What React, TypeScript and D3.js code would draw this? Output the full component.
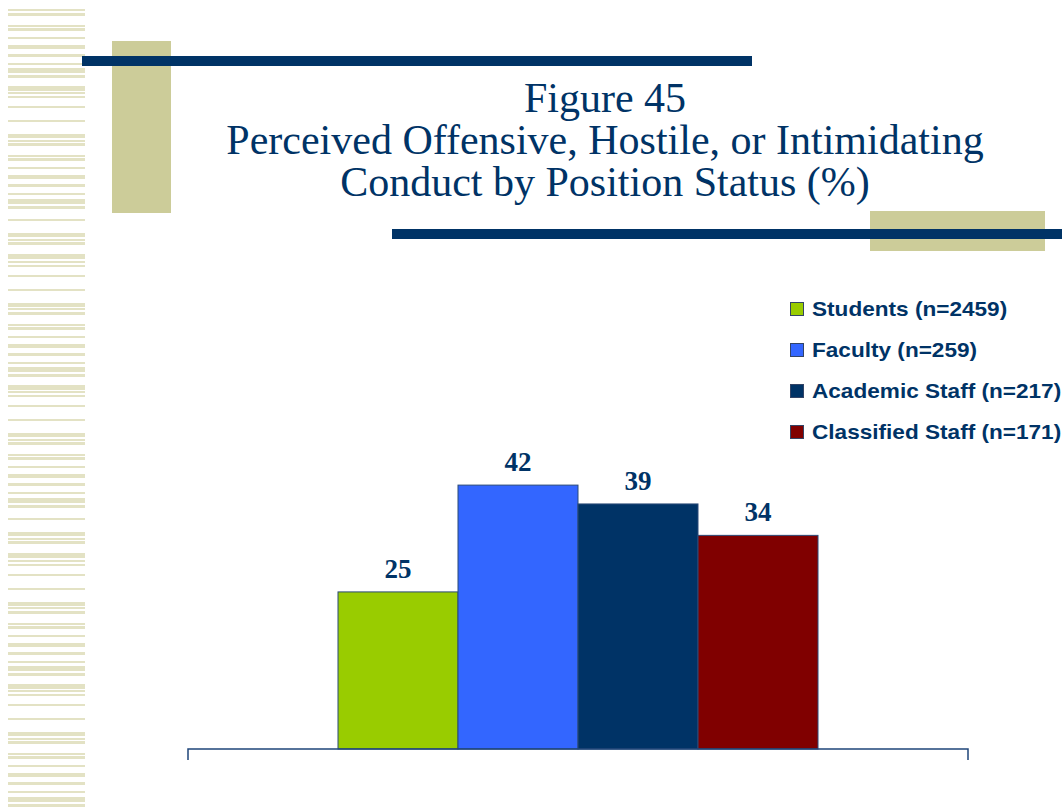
import React from "react";
import * as d3 from "d3";

const categories = ["Position Status"];
const seriesNames = [
  "Students (n=2459)",
  "Faculty (n=259)",
  "Academic Staff (n=217)",
  "Classified Staff (n=171)",
];
const seriesValues = [25, 42, 39, 34];
const seriesColors = ["#99cc00", "#3366ff", "#003366", "#800000"];
const titleLines = [
  "Figure 45",
  "Perceived Offensive, Hostile, or Intimidating",
  "Conduct by Position Status (%)",
];

// decorative stripe pattern (offset, thickness) within one ~300px period
const stripePattern: [number, number][] = [
  [0, 2], [13, 2], [27, 4], [33, 2], [36, 3], [48, 5], [55, 2], [59, 2], [69, 2],
  [83, 2], [97, 4], [102, 2], [106, 3], [118, 2], [121, 3], [130, 2], [138, 4],
  [147, 3], [156, 2], [161, 5], [168, 3], [179, 5], [185, 2], [189, 2], [199, 2],
  [213, 2], [227, 4], [233, 2], [236, 3], [248, 2], [251, 3], [260, 2], [268, 4],
  [277, 3], [286, 2], [292, 5], [299, 3],
];

const W = 1062;
const H = 809;
const NAVY = "#003366";
const KHAKI = "#cccc99";

export default function App() {
  const x0 = d3.scaleBand().domain(categories).range([188, 968]).paddingInner(0).paddingOuter(0.3125);
  const x1 = d3
    .scaleBand()
    .domain(seriesNames)
    .range([0, x0.bandwidth()])
    .padding(0);
  const y = d3.scaleLinear().domain([0, 60]).range([749, 372]);

  const stripes: { y: number; h: number }[] = [];
  [-93, 206, 505].forEach((start) => {
    stripePattern.forEach(([o, t]) => {
      const yy = start + o;
      if (yy + t > 8 && yy < H) stripes.push({ y: Math.max(8, yy), h: t + Math.min(0, yy - 8) });
    });
  });

  const cat = categories[0];
  const gx = x0(cat) as number;

  return (
    <svg width={W} height={H} style={{ position: "absolute", left: 0, top: 0, background: "#fff" }}>
      {/* left stripes */}
      {stripes.map((s, i) => (
        <rect key={i} x={8} y={s.y} width={77} height={s.h} fill="#e3e2c4" />
      ))}
      {/* header decorations */}
      <rect x={112} y={41} width={59} height={172} fill={KHAKI} />
      <rect x={82} y={56} width={670} height={10} fill={NAVY} />
      <rect x={870} y={211} width={175} height={40} fill={KHAKI} />
      <rect x={392} y={229} width={670} height={10} fill={NAVY} />

      {/* title */}
      {titleLines.map((t, i) => (
        <text
          key={i}
          x={605}
          y={112 + i * 42}
          textAnchor="middle"
          fontFamily="'Liberation Serif', 'Times New Roman', serif"
          fontSize={42}
          fill={NAVY}
        >
          {t}
        </text>
      ))}

      {/* bars */}
      {seriesNames.map((s, i) => {
        const bx = gx + (x1(s) as number);
        const v = seriesValues[i];
        return (
          <g key={s}>
            <rect
              x={bx}
              y={y(v)}
              width={x1.bandwidth()}
              height={y(0) - y(v)}
              fill={seriesColors[i]}
              stroke="#2b4a78"
              strokeWidth={1}
            />
            <text
              x={bx + x1.bandwidth() / 2}
              y={y(v) - 14}
              textAnchor="middle"
              fontFamily="'Liberation Serif', 'Times New Roman', serif"
              fontWeight="bold"
              fontSize={27}
              fill={NAVY}
            >
              {v}
            </text>
          </g>
        );
      })}

      {/* axis */}
      <path
        d={`M${x0.range()[0]},760V${y(0)}H${x0.range()[1]}V760`}
        fill="none"
        stroke="#1f467a"
        strokeWidth={1.5}
      />

      {/* legend */}
      {seriesNames.map((s, i) => {
        const cy = 309 + i * 41;
        return (
          <g key={s}>
            <rect x={790.5} y={cy - 6.5} width={13} height={13} fill={seriesColors[i]} stroke="#334466" strokeWidth={1} />
            <text
              transform={`translate(812,${cy + 7}) scale(1.13,1)`}
              fontFamily="'Liberation Sans', Arial, sans-serif"
              fontWeight="bold"
              fontSize={20}
              fill={NAVY}
            >
              {s}
            </text>
          </g>
        );
      })}
    </svg>
  );
}
